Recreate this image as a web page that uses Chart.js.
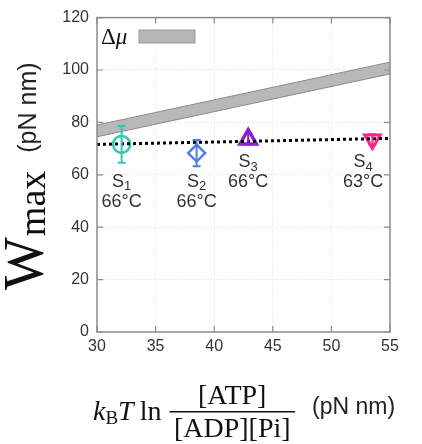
<!DOCTYPE html>
<html>
<head>
<meta charset="utf-8">
<script src="https://cdn.jsdelivr.net/npm/chart.js@4.4.1/dist/chart.umd.min.js"></script>
<style>
  html, body { margin: 0; padding: 0; background: #fff; overflow: hidden; }
  #wrap { position: relative; width: 422px; height: 444px; }
</style>
</head>
<body>
<div id="wrap"><canvas id="c" width="422" height="444"></canvas></div>
<script>
// --- data ---
const xTicks = [30, 35, 40, 45, 50, 55];
const yTicks = [0, 20, 40, 60, 80, 100, 120];

const sampleX = [32.1, 38.5, 42.9, 53.5];
const sampleY = [71.6, 68.3, 73.6, 73.5];
const sampleErr = [7, 5, 2, 2];
const sampleNames = ['1', '2', '3', '4'];        // subscripts of S
const sampleTemps = ['66°C', '66°C', '66°C', '63°C'];
const labelX = [32.1, 38.5, 42.9, 52.7];
const labelY = [57.3, 57.3, 64.8, 64.8];

const bandX = [30, 55];
const bandLow = [74.5, 98.5];
const bandHigh = [79, 103];

const fitX = [30, 55];
const fitY = [71.6, 73.9];

const colors = ['#2fc7b6', '#4d7ee3', '#8a1fd3', '#f7268c'];
const styles = ['circle', 'rectRot', 'triangle', 'triangle'];
const rotations = [0, 0, 0, 180];

const SANS = "'Liberation Sans', Arial, sans-serif";
const SERIF = "'Liberation Serif', 'Times New Roman', serif";

const pts = (xs, ys) => xs.map((x, i) => ({ x: x, y: ys[i] }));

// --- plugins: frame, inner ticks, error bars, labels, titles ---
const decor = {
    id: 'decor',
    afterDatasetsDraw(chart) {
        const ctx = chart.ctx;
        const ys = chart.scales.y;
        const meta = chart.getDatasetMeta(3);

        // error bars
        ctx.save();
        ctx.lineWidth = 2;
        meta.data.forEach((el, i) => {
            const px = el.x;
            const top = ys.getPixelForValue(sampleY[i] + sampleErr[i]);
            const bot = ys.getPixelForValue(sampleY[i] - sampleErr[i]);
            ctx.strokeStyle = colors[i];
            ctx.beginPath();
            ctx.moveTo(px, top); ctx.lineTo(px, bot);
            ctx.moveTo(px - 4, top); ctx.lineTo(px + 4, top);
            ctx.moveTo(px - 4, bot); ctx.lineTo(px + 4, bot);
            ctx.stroke();
        });
        ctx.restore();
    },
    afterDraw(chart) {
        const ctx = chart.ctx;
        const a = chart.chartArea;
        const xs = chart.scales.x, ys = chart.scales.y;

        ctx.save();
        // frame
        ctx.strokeStyle = '#8c8c8c';
        ctx.lineWidth = 1.5;
        ctx.strokeRect(a.left, a.top, a.right - a.left, a.bottom - a.top);
        // inward ticks
        ctx.lineWidth = 1.2;
        ctx.beginPath();
        xTicks.forEach(v => {
            const p = xs.getPixelForValue(v);
            ctx.moveTo(p, a.bottom); ctx.lineTo(p, a.bottom - 6);
            ctx.moveTo(p, a.top); ctx.lineTo(p, a.top + 6);
        });
        yTicks.forEach(v => {
            const p = ys.getPixelForValue(v);
            ctx.moveTo(a.left, p); ctx.lineTo(a.left + 6, p);
            ctx.moveTo(a.right, p); ctx.lineTo(a.right - 6, p);
        });
        ctx.stroke();

        // sample labels
        ctx.fillStyle = '#333';
        ctx.textBaseline = 'middle';
        sampleNames.forEach((sub, i) => {
            const cx = xs.getPixelForValue(labelX[i]);
            const cy = ys.getPixelForValue(labelY[i]);
            ctx.font = '18px ' + SANS;
            const wS = ctx.measureText('S').width;
            ctx.font = '13px ' + SANS;
            const wSub = ctx.measureText(sub).width;
            const x0 = cx - (wS + wSub) / 2;
            ctx.textAlign = 'left';
            ctx.font = '18px ' + SANS;
            ctx.fillText('S', x0, cy);
            ctx.font = '13px ' + SANS;
            ctx.fillText(sub, x0 + wS, cy + 5);
            ctx.textAlign = 'center';
            ctx.font = '18px ' + SANS;
            ctx.fillText(sampleTemps[i], cx, cy + 20);
        });

        // legend: Δμ with grey swatch
        ctx.textAlign = 'left';
        ctx.textBaseline = 'alphabetic';
        ctx.fillStyle = '#111';
        ctx.font = '23px ' + SERIF;
        ctx.fillText('Δ', 101, 44);
        const wD = ctx.measureText('Δ').width;
        ctx.font = 'italic 23px ' + SERIF;
        ctx.fillText('μ', 101 + wD, 44);
        ctx.fillStyle = '#b5b5b5';
        ctx.fillRect(139, 30, 56, 13);
        ctx.strokeStyle = '#9a9a9a';
        ctx.lineWidth = 1;
        ctx.strokeRect(139, 30, 56, 13);

        // y-axis title (rotated)
        ctx.save();
        ctx.translate(43, 290);
        ctx.rotate(-Math.PI / 2);
        ctx.fillStyle = '#111';
        let u = 0;
        ctx.font = '56px ' + SERIF;
        ctx.fillText('W', u, 0);
        u += ctx.measureText('W').width + 1;
        ctx.font = '38px ' + SERIF;
        ctx.fillText('max', u, 2);
        u += ctx.measureText('max').width + 18;
        ctx.font = '25px ' + SANS;
        ctx.fillStyle = '#222';
        ctx.fillText('(pN nm)', u, -7);
        ctx.restore();

        // x-axis title: kB T ln [ATP]/([ADP][Pi]) (pN nm)
        ctx.fillStyle = '#111';
        const base = 420;
        let x = 93;
        ctx.font = 'italic 28px ' + SERIF;
        ctx.fillText('k', x, base);
        x += ctx.measureText('k').width;
        ctx.font = '19px ' + SERIF;
        ctx.fillText('B', x, base + 4);
        x += ctx.measureText('B').width;
        ctx.font = 'italic 28px ' + SERIF;
        ctx.fillText('T', x, base);
        x += ctx.measureText('T').width + 6;
        ctx.font = '28px ' + SERIF;
        ctx.fillText('ln', x, base);
        x += ctx.measureText('ln').width + 8;
        const fracL = x, fracR = 295;
        const fracC = (fracL + fracR) / 2;
        ctx.fillRect(fracL, 411, fracR - fracL, 1.5);
        ctx.textAlign = 'center';
        ctx.fillText('[ATP]', fracC, 404);
        ctx.fillText('[ADP][Pi]', fracC, 437);
        ctx.textAlign = 'left';
        ctx.font = '23px ' + SANS;
        ctx.fillStyle = '#222';
        ctx.fillText('(pN nm)', 312, 414);
        ctx.restore();
    }
};

new Chart(document.getElementById('c'), {
    type: 'scatter',
    data: {
        datasets: [
            {
                label: 'band low',
                data: pts(bandX, bandLow),
                showLine: true,
                borderColor: '#8a8a8a',
                borderWidth: 1,
                pointRadius: 0,
                fill: false
            },
            {
                label: 'Δμ',
                data: pts(bandX, bandHigh),
                showLine: true,
                borderColor: '#8a8a8a',
                borderWidth: 1,
                backgroundColor: '#b8b8b8',
                pointRadius: 0,
                fill: '-1'
            },
            {
                label: 'fit',
                data: pts(fitX, fitY),
                showLine: true,
                borderColor: '#000',
                borderWidth: 3,
                borderDash: [3, 3],
                pointRadius: 0
            },
            {
                label: 'samples',
                data: pts(sampleX, sampleY),
                pointStyle: styles,
                rotation: rotations,
                pointRadius: [8.5, 8.5, 9.5, 9],
                pointBorderWidth: [2.5, 2.5, 3.5, 3],
                pointBorderColor: colors,
                pointBackgroundColor: 'rgba(255,255,255,0)'
            }
        ]
    },
    options: {
        responsive: false,
        animation: false,
        events: [],
        layout: { padding: { top: 15, right: 32, left: 0, bottom: 0 } },
        plugins: { legend: { display: false }, tooltip: { enabled: false } },
        scales: {
            x: {
                type: 'linear',
                min: 30, max: 55,
                afterBuildTicks: s => { s.ticks = xTicks.map(v => ({ value: v })); },
                afterFit: s => { s.height = 112; },
                grid: { color: '#dcdcdc', lineWidth: 1, drawTicks: false },
                border: { display: false, dash: [1, 2] },
                ticks: { padding: 5, color: '#333', font: { family: 'Liberation Sans', size: 16 } }
            },
            y: {
                type: 'linear',
                min: 0, max: 120,
                afterBuildTicks: s => { s.ticks = yTicks.map(v => ({ value: v })); },
                afterFit: s => { s.width = 97; },
                grid: { color: '#dcdcdc', lineWidth: 1, drawTicks: false },
                border: { display: false, dash: [1, 2] },
                ticks: { padding: 8, color: '#333', font: { family: 'Liberation Sans', size: 16 } }
            }
        }
    },
    plugins: [decor]
});
</script>
</body>
</html>
